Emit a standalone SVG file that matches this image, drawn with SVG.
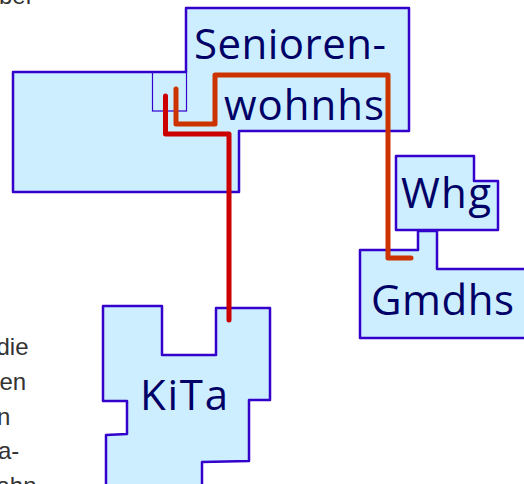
<svg xmlns="http://www.w3.org/2000/svg" width="524" height="484" viewBox="0 0 524 484">
<style>
.b{fill:#cceeff;stroke:#3300cc;stroke-width:2.5;stroke-linejoin:round}
.t{font-family:"Open Sans","Liberation Sans",sans-serif;font-size:42px;fill:#000066}
.s{font-family:"Liberation Sans",sans-serif;font-size:24px;fill:#333333}
.c{fill:none;stroke-width:5;stroke-linecap:round;stroke-linejoin:round}
</style>
<rect width="524" height="484" fill="#ffffff"/>
<g id="bg-text">
<text class="s" x="-1" y="4">ber</text>
<text class="s" x="-3.500" y="355">die</text>
<text class="s" x="-0.500" y="390">en</text>
<text class="s" x="-3" y="425">n</text>
<text class="s" x="-2" y="459">a-</text>
<text class="s" x="-3.500" y="494">ahn</text>
</g>
<g id="seniorenwohnhs">
<path class="b" d="M186 8H409V131H239V192H13V72H186Z"/>
<rect x="152.500" y="72" width="34" height="39" fill="none" stroke="#3300cc" stroke-width="1.2"/>
<text class="t" x="194" y="59" textLength="192">Senioren-</text>
<text class="t" x="224" y="120" textLength="160">wohnhs</text>
</g>
<g id="gmdhs">
<path class="b" d="M360 250H418V231H437V269H530V338H360Z"/>
<text class="t" x="371" y="315" textLength="143">Gmdhs</text>
</g>
<g id="whg">
<path class="b" d="M396 156H474V181H498V230H396Z"/>
<text class="t" x="401" y="208" textLength="90">Whg</text>
</g>
<g id="kita">
<path class="b" d="M103 306H162V355H216V308H270V400H249V461L202 462V490H106V435L127 434V401H103Z"/>
<text class="t" x="140" y="410" textLength="88">KiTa</text>
</g>
<g id="connectors">
<path class="c" stroke="#cc3300" d="M176 89V124H215V75H388V258H411"/>
<path class="c" stroke="#cc0000" d="M165.500 96V134H229V320"/>
</g>
</svg>
